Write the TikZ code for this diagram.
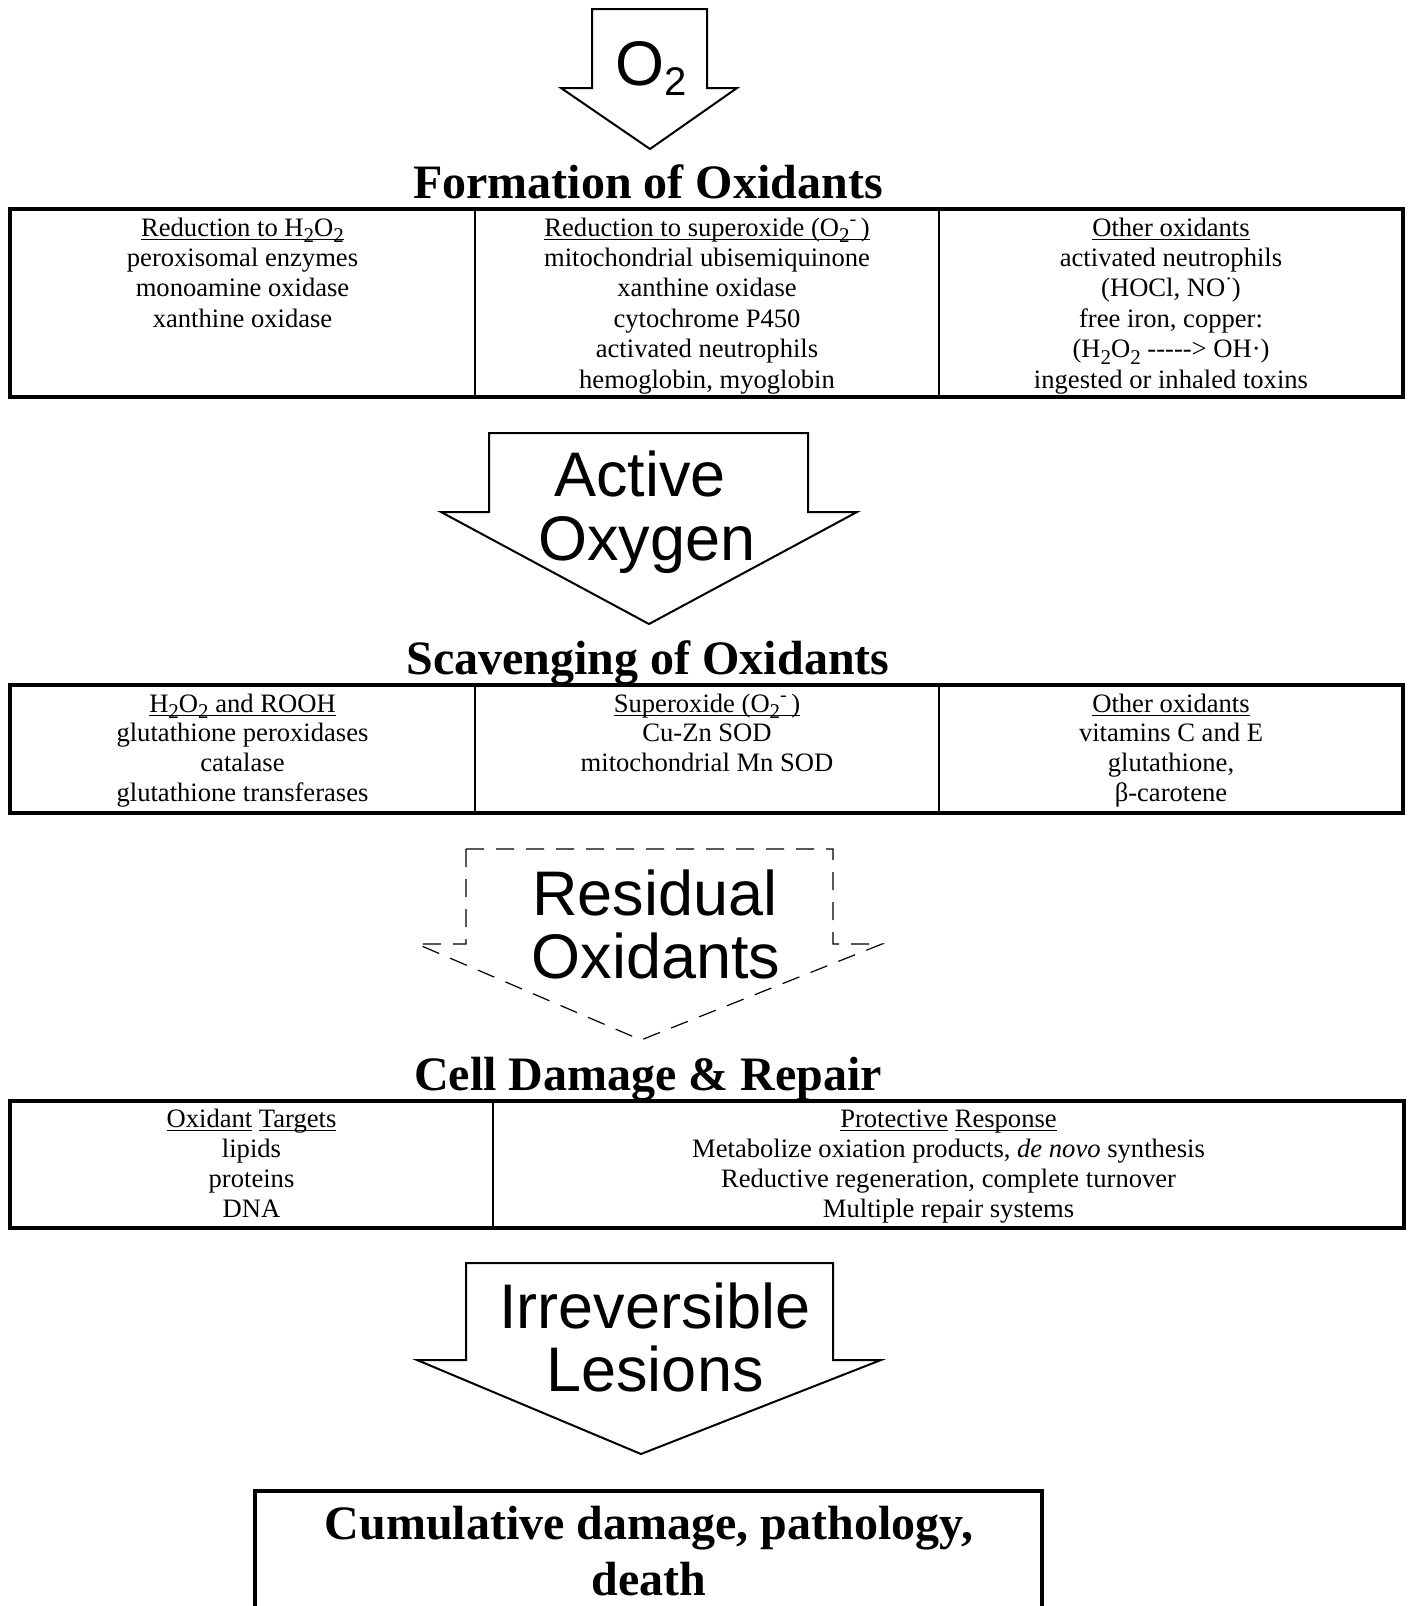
\documentclass[tikz,border=0pt]{standalone}
\usepackage{fontspec}
\setmainfont{Liberation Serif}
\newfontfamily\helv{Liberation Sans}
\usetikzlibrary{positioning}
\tikzset{
	cell/.style={anchor=base, inner sep=0pt, font=\fontsize{13.3}{15}\selectfont},
	heading/.style={anchor=base, inner sep=0pt, font=\bfseries\fontsize{24}{28}\selectfont},
	bigsans/.style={anchor=base, inner sep=0pt, font=\helv\fontsize{31.5}{32}\selectfont},
	tableframe/.style={line width=2pt},
	tablerule/.style={line width=0.9pt},
	blockarrow/.style={line width=1pt, fill=white},
	ghostarrow/.style={line width=0.6pt, dash pattern=on 9pt off 6pt},
}
\newcommand{\undl}[1]{\setbox0=\hbox{#1}\rlap{\rule[-2pt]{\wd0}{0.6pt}}\box0\relax}
\newcommand{\chemsub}[1]{\raisebox{-3.2pt}{\fontsize{10.5}{10.5}\selectfont #1}}
\newcommand{\chemsup}[1]{\raisebox{5.5pt}{\fontsize{10}{10}\selectfont #1}}

\begin{document}
\begin{tikzpicture}[x=0.5pt, y=-0.5pt]
	\path[use as bounding box, fill=white] (0,0) rectangle (1409,1606);

	% O2 in
	\filldraw[blockarrow] (592,9) -- (707,9) -- (707,88) -- (737,88) -- (650,149) -- (561,88) -- (592,88) -- cycle;
	\node[bigsans] (o2) at (651,85) {O\raisebox{-5pt}{\fontsize{20}{20}\selectfont 2}};

	% formation
	\node[heading] (formation) at (648,198) {Formation of Oxidants};
	\draw[tableframe] (10,209) rectangle (1403,397);
	\draw[tablerule] (475,209) -- (475,397);
	\draw[tablerule] (939,209) -- (939,397);
	\foreach \t [count=\i from 0] in {{\undl{Reduction to H\chemsub{2}O\chemsub{2}}}, peroxisomal enzymes, monoamine oxidase, xanthine oxidase}
		\node[cell] (fa\i) at (242.5,{236+30.4*\i}) {\t};
	\foreach \t [count=\i from 0] in {{\undl{Reduction to superoxide (O\chemsub{2}\chemsup{-}\,)}}, mitochondrial ubisemiquinone, xanthine oxidase, cytochrome P450, activated neutrophils, {hemoglobin, myoglobin}}
		\node[cell] (fb\i) at (707,{236+30.4*\i}) {\t};
	\foreach \t [count=\i from 0] in {{\undl{Other oxidants}}, activated neutrophils, {(HOCl, NO\chemsup{\textperiodcentered})}, {free iron, copper:}, {(H\chemsub{2}O\chemsub{2} {-}{-}{-}{-}{-}> OH\textperiodcentered)}, ingested or inhaled toxins}
		\node[cell] (fc\i) at (1171,{236+30.4*\i}) {\t};

	% active oxygen
	\filldraw[blockarrow] (489,433) -- (808,433) -- (808,512) -- (857,512) -- (649,624) -- (441,512) -- (489,512) -- cycle;
	\node[bigsans] (active) at (640,496) {Active};
	\node[bigsans] (oxygen) at (647,560) {Oxygen};

	% scavenging
	\node[heading] (scavenging) at (648,674) {Scavenging of Oxidants};
	\draw[tableframe] (10,685) rectangle (1403,813);
	\draw[tablerule] (475,685) -- (475,813);
	\draw[tablerule] (939,685) -- (939,813);
	\foreach \t [count=\i from 0] in {{\undl{H\chemsub{2}O\chemsub{2} and ROOH}}, glutathione peroxidases, catalase, glutathione transferases}
		\node[cell] (sa\i) at (242.5,{712+29.7*\i}) {\t};
	\foreach \t [count=\i from 0] in {{\undl{Superoxide (O\chemsub{2}\chemsup{-}\,)}}, Cu-Zn SOD, mitochondrial Mn SOD}
		\node[cell] (sb\i) at (707,{712+29.7*\i}) {\t};
	\foreach \t [count=\i from 0] in {{\undl{Other oxidants}}, vitamins C and E, {glutathione,}, β-carotene}
		\node[cell] (sc\i) at (1171,{712+29.7*\i}) {\t};

	% residual oxidants
	\draw[ghostarrow] (466,849) -- (833,849) -- (833,944) -- (882,944) -- (641,1040) -- (417,944) -- (466,944) -- cycle;
	\node[bigsans] (residual) at (655,915) {Residual};
	\node[bigsans] (oxidants) at (656,978) {Oxidants};

	% damage and repair
	\node[heading] (damage) at (648,1090) {Cell Damage \& Repair};
	\draw[tableframe] (10,1101) rectangle (1404,1228);
	\draw[tablerule] (493,1101) -- (493,1228);
	\foreach \t [count=\i from 0] in {{\undl{Oxidant} \undl{Targets}}, lipids, proteins, DNA}
		\node[cell] (da\i) at (251.5,{1127+30*\i}) {\t};
	\foreach \t [count=\i from 0] in {{\undl{Protective} \undl{Response}}, {Metabolize oxiation products, \emph{de novo} synthesis}, {Reductive regeneration, complete turnover}, Multiple repair systems}
		\node[cell] (db\i) at (948.5,{1127+30*\i}) {\t};

	% irreversible lesions
	\filldraw[blockarrow] (466,1263) -- (833,1263) -- (833,1360) -- (881,1360) -- (641,1454) -- (417,1360) -- (466,1360) -- cycle;
	\node[bigsans] (irreversible) at (655,1328) {Irreversible};
	\node[bigsans] (lesions) at (655,1391) {Lesions};

	% outcome
	\draw[line width=2pt] (255,1606) -- (255,1491) -- (1042,1491) -- (1042,1606);
	\node[heading] (outcome1) at (649,1539) {Cumulative damage, pathology,};
	\node[heading] (outcome2) at (649,1595) {death};
\end{tikzpicture}
\end{document}
